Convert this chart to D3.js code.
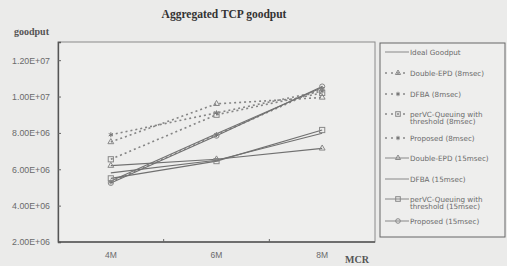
<!DOCTYPE html>
<html>
<head>
<meta charset="utf-8">
<script src="https://cdn.jsdelivr.net/npm/d3@7"></script>
<style>
  body { margin: 0; background: #ebebea; }
  svg { display: block; }
  .tick text { fill: #6a6a6a; font-family: "Liberation Sans", Arial, sans-serif; }
</style>
</head>
<body>
<div id="chart"></div>
<script>
// MCR categories and goodput per scheme
var categories = ['4M', '6M', '8M'];
var yTicks = [2e6, 4e6, 6e6, 8e6, 1e7, 1.2e7];

var idealGoodput   = [5.35e6, 7.95e6, 10.5e6];
var doubleEpd8     = [7.5e6, 9.6e6, 9.95e6];
var dfba8          = [7.9e6, 9.1e6, 10.3e6];
var perVc8         = [6.55e6, 9.0e6, 10.2e6];
var proposed8      = [5.3e6, 7.9e6, 10.45e6];
var doubleEpd15    = [6.2e6, 6.55e6, 7.15e6];
var dfba15         = [5.8e6, 6.5e6, 7.98e6];
var perVc15        = [5.5e6, 6.45e6, 8.16e6];
var proposed15     = [5.25e6, 7.85e6, 10.55e6];

var series = [
    { name: ['Ideal Goodput'], values: idealGoodput, dash: null, mark: null },
    { name: ['Double-EPD (8msec)'], values: doubleEpd8, dash: '2,3', mark: 'triangle' },
    { name: ['DFBA (8msec)'], values: dfba8, dash: '2,3', mark: 'star' },
    { name: ['perVC-Queuing with', 'threshold (8msec)'], values: perVc8, dash: '2,3', mark: 'square' },
    { name: ['Proposed (8msec)'], values: proposed8, dash: '2,3', mark: 'star' },
    { name: ['Double-EPD (15msec)'], values: doubleEpd15, dash: null, mark: 'triangle' },
    { name: ['DFBA (15msec)'], values: dfba15, dash: null, mark: null },
    { name: ['perVC-Queuing with', 'threshold (15msec)'], values: perVc15, dash: null, mark: 'square' },
    { name: ['Proposed (15msec)'], values: proposed15, dash: null, mark: 'circle' }
];

function drawChart() {
    var W = 507, H = 266;
    var mLeft = 58, mRight = 375, mTop = 42, mBottom = 242;

    var svg = d3.select('#chart').append('svg')
        .attr('width', W)
        .attr('height', H);

    var x = d3.scalePoint()
        .domain(categories)
        .range([mLeft, mRight])
        .padding(0.5);

    var y = d3.scaleLinear()
        .domain([2e6, 1.3e7])
        .range([mBottom, mTop]);

    // plot frame
    svg.append('rect')
        .attr('x', mLeft).attr('y', mTop)
        .attr('width', mRight - mLeft).attr('height', mBottom - mTop)
        .attr('fill', '#eeeeed')
        .attr('stroke', '#8a8a8a')
        .attr('stroke-width', 1);

    var yAxis = d3.axisLeft(y)
        .tickValues(yTicks)
        .tickSize(-3)
        .tickPadding(8)
        .tickFormat(function(d) { return d.toExponential(2).toUpperCase().replace('E+', 'E+0'); });

    var gy = svg.append('g')
        .attr('transform', 'translate(' + mLeft + ',0)')
        .call(yAxis);
    gy.select('.domain').attr('stroke', '#555').attr('stroke-width', 1.3);
    gy.selectAll('.tick line').attr('stroke', '#666');
    gy.selectAll('.tick text').style('font-size', '8.8px');

    // x axis ticks sit between categories
    var step = x.step();
    var gx = svg.append('g')
        .attr('transform', 'translate(0,' + mBottom + ')');
    gx.append('line')
        .attr('x1', mLeft).attr('x2', mRight)
        .attr('stroke', '#555').attr('stroke-width', 1.3);
    gx.selectAll('.xt')
        .data(categories.slice(0, -1))
        .enter().append('line')
        .attr('x1', function(d) { return x(d) + step / 2; })
        .attr('x2', function(d) { return x(d) + step / 2; })
        .attr('y1', 0).attr('y2', -3)
        .attr('stroke', '#666');
    gx.selectAll('.xl')
        .data(categories)
        .enter().append('text')
        .attr('x', function(d) { return x(d); })
        .attr('y', 16)
        .attr('text-anchor', 'middle')
        .style('font-family', '"Liberation Sans", Arial, sans-serif')
        .style('font-size', '8.5px')
        .attr('fill', '#6a6a6a')
        .text(function(d) { return d; });

    var line = d3.line()
        .x(function(d, i) { return x(categories[i]); })
        .y(function(d) { return y(d); });

    function drawMark(g, type, cx, cy, r) {
        if (type === 'triangle') {
            g.append('path')
                .attr('d', d3.symbol().type(d3.symbolTriangle).size(r * r * 2.2)())
                .attr('transform', 'translate(' + cx + ',' + cy + ')')
                .attr('fill', 'none').attr('stroke', '#888');
        } else if (type === 'square') {
            g.append('rect')
                .attr('x', cx - r).attr('y', cy - r)
                .attr('width', r * 2).attr('height', r * 2)
                .attr('fill', 'none').attr('stroke', '#888');
        } else if (type === 'circle') {
            g.append('circle')
                .attr('cx', cx).attr('cy', cy).attr('r', r)
                .attr('fill', 'none').attr('stroke', '#888');
        } else if (type === 'star') {
            g.append('path')
                .attr('d', d3.symbol().type(d3.symbolAsterisk).size(r * r * 2.5)())
                .attr('transform', 'translate(' + cx + ',' + cy + ')')
                .attr('fill', 'none').attr('stroke', '#777');
        }
    }

    var plot = svg.append('g');
    series.forEach(function(s) {
        plot.append('path')
            .datum(s.values)
            .attr('d', line)
            .attr('fill', 'none')
            .attr('stroke', s.dash ? '#858585' : '#707070')
            .attr('stroke-width', s.dash ? 1.6 : 1.1)
            .attr('stroke-dasharray', s.dash);
        if (s.mark) {
            s.values.forEach(function(v, i) {
                drawMark(plot, s.mark, x(categories[i]), y(v), 2.6);
            });
        }
    });

    // legend
    var lg = svg.append('g');
    lg.append('rect')
        .attr('x', 380).attr('y', 43)
        .attr('width', 125).attr('height', 194)
        .attr('fill', '#eeeeed')
        .attr('stroke', '#666')
        .attr('stroke-width', 1);

    var legendY = [52, 73, 94, 114, 138, 158, 179, 199, 221];
    series.forEach(function(s, i) {
        var ly = legendY[i];
        lg.append('line')
            .attr('x1', 385).attr('x2', 409)
            .attr('y1', ly).attr('y2', ly)
            .attr('stroke', '#888')
            .attr('stroke-width', s.dash ? 1.4 : 1)
            .attr('stroke-dasharray', s.dash ? '2,4' : null);
        if (s.mark) drawMark(lg, s.mark, 398, ly, 2.3);
        s.name.forEach(function(t, k) {
            lg.append('text')
                .attr('x', 410)
                .attr('y', ly + 2.6 + k * 7.8)
                .style('font-family', '"DejaVu Sans", sans-serif')
                .style('font-size', '7.2px')
                .attr('fill', '#6a6a6a')
                .text(t);
        });
    });

    // titles
    svg.append('text')
        .attr('x', 224).attr('y', 18)
        .attr('text-anchor', 'middle')
        .style('font-family', '"Liberation Serif", "Times New Roman", serif')
        .style('font-weight', 'bold')
        .style('font-size', '11.5px')
        .attr('fill', '#333')
        .text('Aggregated TCP goodput');

    svg.append('text')
        .attr('x', 14).attr('y', 35)
        .style('font-family', '"Liberation Serif", "Times New Roman", serif')
        .style('font-weight', 'bold')
        .style('font-size', '10px')
        .attr('fill', '#555')
        .text('goodput');

    svg.append('text')
        .attr('x', 345).attr('y', 263)
        .style('font-family', '"Liberation Serif", "Times New Roman", serif')
        .style('font-weight', 'bold')
        .style('font-size', '10px')
        .attr('fill', '#555')
        .text('MCR');
}

drawChart();
</script>
</body>
</html>
